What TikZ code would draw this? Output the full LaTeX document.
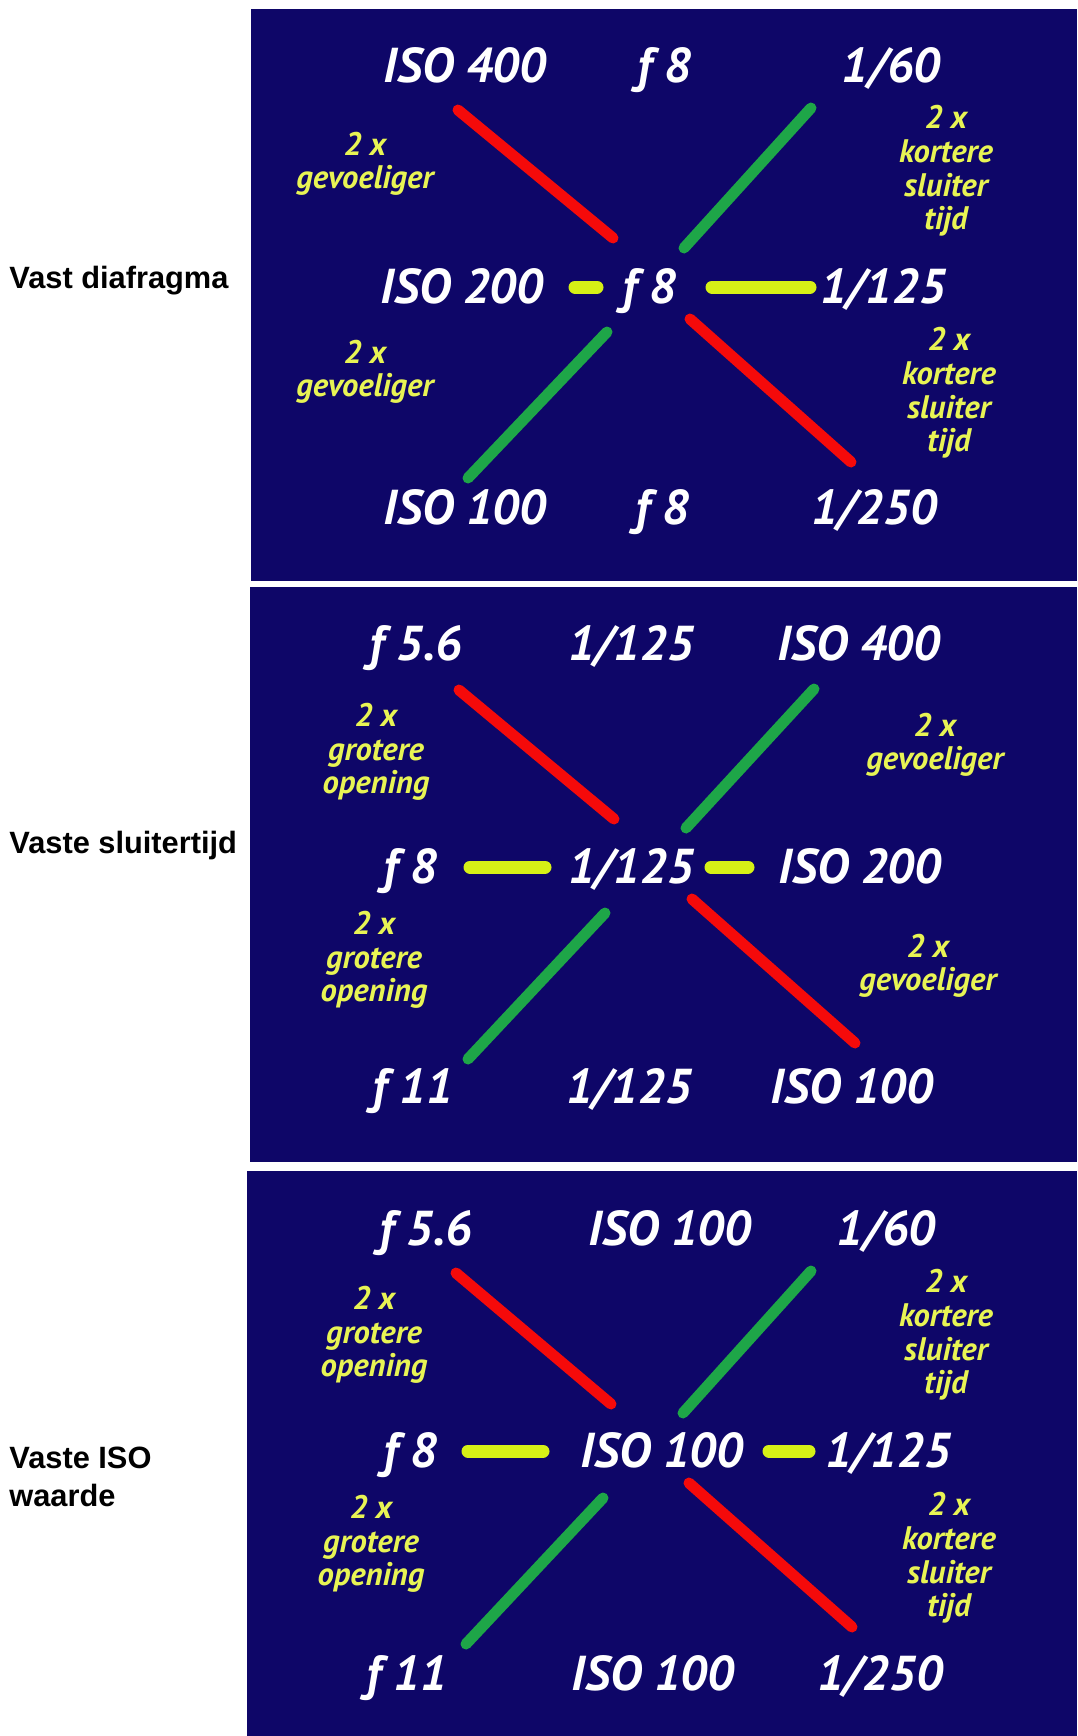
\documentclass[tikz,border=0pt]{standalone}
\usepackage{fontspec}
\setmainfont{PT Sans}
\newfontfamily\sidefont{Liberation Sans}
\usepackage{tikz}
\usetikzlibrary{calc, positioning}
\definecolor{navy}{RGB}{14,6,104}
\definecolor{paleyellow}{RGB}{232,244,84}
\definecolor{baryellow}{RGB}{214,240,22}
\definecolor{stopred}{RGB}{245,10,10}
\definecolor{gogreen}{RGB}{30,166,72}

\begin{document}
\begin{tikzpicture}[x=0.5pt, y=-0.5pt,
    val/.style={text=white, font=\fontsize{24.5}{25}\selectfont\bfseries\itshape, inner sep=0pt, anchor=base},
    note/.style={text=paleyellow, font=\fontsize{16.3}{16.8}\selectfont\bfseries\itshape, align=center, inner sep=0pt},
    side/.style={font=\sidefont\fontsize{15.4}{19}\selectfont\bfseries, align=left, inner sep=0pt, anchor=west},
    redline/.style={stopred, line width=5.5pt, line cap=round},
    greenline/.style={gogreen, line width=5.5pt, line cap=round},
    yellowbar/.style={baryellow, line width=6.5pt, line cap=round}]
    \useasboundingbox (0,0) rectangle (1077,1736);
    \fill[white] (0,0) rectangle (1077,1736);

    % Panels
    \fill[navy] (251,9) rectangle (1077,581);
    \fill[navy] (250,587) rectangle (1077,1162);
    \fill[navy] (247,1171) rectangle (1077,1736);

    % Side labels
    \node[side] (diaf) at (9,281) {Vast diafragma};
    \node[side] (sluit) at (9,846) {Vaste sluitertijd};
    \node[side] (iso) at (9,1477) {Vaste ISO\\waarde};

    % Panel 1: vast diafragma
    \node[val] (aTL) at (465,82) {ISO 400};
    \node[val] (aTM) at (664,82) {f 8};
    \node[val] (aTR) at (891,82) {1/60};
    \node[val] (aML) at (462,303) {ISO 200};
    \node[val] (aMM) at (649,303) {f 8};
    \node[val] (aMR) at (883,303) {1/125};
    \node[val] (aBL) at (465,524) {ISO 100};
    \node[val] (aBM) at (662,524) {f 8};
    \node[val] (aBR) at (874,524) {1/250};
    \node[note] (aNUL) at (365,164) {2 x\\gevoeliger};
    \node[note] (aNUR) at (946,171) {2 x\\kortere\\sluiter\\tijd};
    \node[note] (aNLL) at (365,372) {2 x\\gevoeliger};
    \node[note] (aNLR) at (949,393) {2 x\\kortere\\sluiter\\tijd};
    \coordinate (aR1) at (458,110); \coordinate (aR2) at (613,238);
    \coordinate (aG1) at (811,108); \coordinate (aG2) at (684,248);
    \coordinate (aG3) at (607,332); \coordinate (aG4) at (468,478);
    \coordinate (aR3) at (690,319); \coordinate (aR4) at (851,462);
    \coordinate (aY1) at (575,287); \coordinate (aY2) at (597,287);
    \coordinate (aY3) at (712,287); \coordinate (aY4) at (810,287);
    \draw[redline] (aR1) -- (aR2);
    \draw[greenline] (aG1) -- (aG2);
    \draw[greenline] (aG3) -- (aG4);
    \draw[redline] (aR3) -- (aR4);
    \draw[yellowbar] (aY1) -- (aY2);
    \draw[yellowbar] (aY3) -- (aY4);

    % Panel 2: vaste sluitertijd
    \node[val] (bTL) at (416,660) {f 5.6};
    \node[val] (bTM) at (631,660) {1/125};
    \node[val] (bTR) at (859,660) {ISO 400};
    \node[val] (bML) at (410,883) {f 8};
    \node[val] (bMM) at (631,883) {1/125};
    \node[val] (bMR) at (860,883) {ISO 200};
    \node[val] (bBL) at (413,1103) {f 11};
    \node[val] (bBM) at (629,1103) {1/125};
    \node[val] (bBR) at (852,1103) {ISO 100};
    \node[note] (bNUL) at (376,752) {2 x\\grotere\\opening};
    \node[note] (bNUR) at (935,745) {2 x\\gevoeliger};
    \node[note] (bNLL) at (374,960) {2 x\\grotere\\opening};
    \node[note] (bNLR) at (928,966) {2 x\\gevoeliger};
    \coordinate (bR1) at (459,690); \coordinate (bR2) at (614,819);
    \coordinate (bG1) at (814,689); \coordinate (bG2) at (686,828);
    \coordinate (bG3) at (605,913); \coordinate (bG4) at (468,1059);
    \coordinate (bR3) at (692,899); \coordinate (bR4) at (855,1043);
    \coordinate (bY1) at (470,867); \coordinate (bY2) at (545,867);
    \coordinate (bY3) at (711,867); \coordinate (bY4) at (748,867);
    \draw[redline] (bR1) -- (bR2);
    \draw[greenline] (bG1) -- (bG2);
    \draw[greenline] (bG3) -- (bG4);
    \draw[redline] (bR3) -- (bR4);
    \draw[yellowbar] (bY1) -- (bY2);
    \draw[yellowbar] (bY3) -- (bY4);

    % Panel 3: vaste ISO waarde
    \node[val] (cTL) at (426,1245) {f 5.6};
    \node[val] (cTM) at (670,1245) {ISO 100};
    \node[val] (cTR) at (886,1245) {1/60};
    \node[val] (cML) at (410,1467) {f 8};
    \node[val] (cMM) at (662,1467) {ISO 100};
    \node[val] (cMR) at (888,1467) {1/125};
    \node[val] (cBL) at (407,1690) {f 11};
    \node[val] (cBM) at (653,1690) {ISO 100};
    \node[val] (cBR) at (880,1690) {1/250};
    \node[note] (cNUL) at (374,1335) {2 x\\grotere\\opening};
    \node[note] (cNUR) at (946,1335) {2 x\\kortere\\sluiter\\tijd};
    \node[note] (cNLL) at (371,1544) {2 x\\grotere\\opening};
    \node[note] (cNLR) at (949,1558) {2 x\\kortere\\sluiter\\tijd};
    \coordinate (cR1) at (456,1273); \coordinate (cR2) at (611,1404);
    \coordinate (cG1) at (811,1271); \coordinate (cG2) at (683,1413);
    \coordinate (cG3) at (603,1498); \coordinate (cG4) at (466,1644);
    \coordinate (cR3) at (689,1483); \coordinate (cR4) at (852,1627);
    \coordinate (cY1) at (468,1451); \coordinate (cY2) at (543,1451);
    \coordinate (cY3) at (769,1451); \coordinate (cY4) at (809,1451);
    \draw[redline] (cR1) -- (cR2);
    \draw[greenline] (cG1) -- (cG2);
    \draw[greenline] (cG3) -- (cG4);
    \draw[redline] (cR3) -- (cR4);
    \draw[yellowbar] (cY1) -- (cY2);
    \draw[yellowbar] (cY3) -- (cY4);
\end{tikzpicture}
\end{document}
